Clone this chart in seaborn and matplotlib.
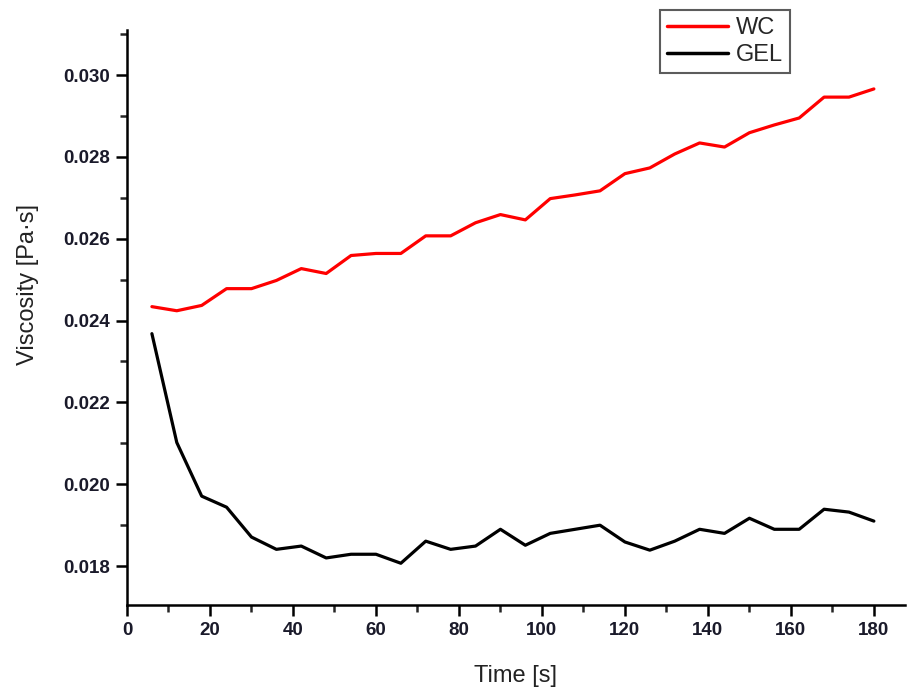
import seaborn as sns
import pandas as pd
import matplotlib.pyplot as plt
import numpy as np
from matplotlib.ticker import MultipleLocator

# Time axis (s)
time_s = [6, 12, 18, 24, 30, 36, 42, 48, 54, 60, 66, 72, 78, 84, 90,
          96, 102, 108, 114, 120, 126, 132, 138, 144, 150, 156, 162, 168, 174, 180]

# Viscosity (Pa·s)
wc = [0.02434, 0.02424, 0.02437, 0.02478, 0.02478, 0.02498, 0.02527, 0.02515,
      0.02559, 0.02564, 0.02564, 0.02607, 0.02607, 0.02639, 0.02659, 0.02646,
      0.02698, 0.02707, 0.02717, 0.02759, 0.02773, 0.02807, 0.02834, 0.02824,
      0.02859, 0.02878, 0.02895, 0.02946, 0.02946, 0.02966]
gel = [0.02368, 0.02102, 0.01971, 0.01944, 0.01871, 0.01841, 0.01849, 0.01820,
       0.01829, 0.01829, 0.01807, 0.01861, 0.01841, 0.01849, 0.01890, 0.01851,
       0.01880, 0.01890, 0.01900, 0.01859, 0.01839, 0.01861, 0.01890, 0.01880,
       0.01917, 0.01890, 0.01890, 0.01939, 0.01932, 0.01910]

series_names = ['WC', 'GEL']
series_colors = ['#ff0000', '#000000']

df = pd.DataFrame({
    'time': time_s * 2,
    'visc': wc + gel,
    'sample': ['WC'] * len(wc) + ['GEL'] * len(gel),
})

sns.set_style('ticks')
plt.rcParams['font.family'] = ['Liberation Sans', 'DejaVu Sans']

fig = plt.figure(figsize=(9.08, 6.93), dpi=100)
ax = fig.add_axes([127 / 908, 1 - 605 / 693, 778 / 908, 575 / 693])

sns.lineplot(data=df, x='time', y='visc', hue='sample', hue_order=series_names,
             palette=dict(zip(series_names, series_colors)), linewidth=2.3,
             ax=ax, legend=False)

ax.set_xlim(0, 187.5)
ax.set_ylim(0.01705, 0.0311)
ax.xaxis.set_major_locator(MultipleLocator(20))
ax.xaxis.set_minor_locator(MultipleLocator(10))
ax.yaxis.set_major_locator(MultipleLocator(0.002))
ax.yaxis.set_minor_locator(MultipleLocator(0.001))
ax.yaxis.set_major_formatter(plt.FuncFormatter(lambda v, p: f'{v:.3f}'))

sns.despine(ax=ax)
for s in ['left', 'bottom']:
    ax.spines[s].set_linewidth(1.8)
    ax.spines[s].set_color('black')
ax.tick_params(which='major', direction='out', length=8, width=1.8, pad=4,
               labelsize=13.5, colors='black')
ax.tick_params(which='minor', direction='out', length=5, width=1.8)
for lab in ax.get_xticklabels() + ax.get_yticklabels():
    lab.set_fontweight('bold')
    lab.set_color('#1a1a2a')

ax.set_xlabel('Time [s]', fontsize=17, color='#222222')
ax.set_ylabel('Viscosity [Pa·s]', fontsize=17, color='#222222')
ax.xaxis.set_label_coords(0.5, -0.105)
ax.yaxis.set_label_coords(-0.113, 0.557)

handles = [plt.Line2D([], [], color=c, linewidth=2.5) for c in series_colors]
leg = fig.legend(handles, series_names, loc='upper left',
                 bbox_to_anchor=(660 / 908, 1 - 10 / 693), fontsize=17,
                 frameon=True, fancybox=False, handlelength=2.6,
                 handletextpad=0.3, borderpad=0.3, labelspacing=0.2,
                 borderaxespad=0)
leg.get_frame().set_edgecolor('#333333')
leg.get_frame().set_linewidth(1.5)

fig.savefig('out.png', dpi=100)
